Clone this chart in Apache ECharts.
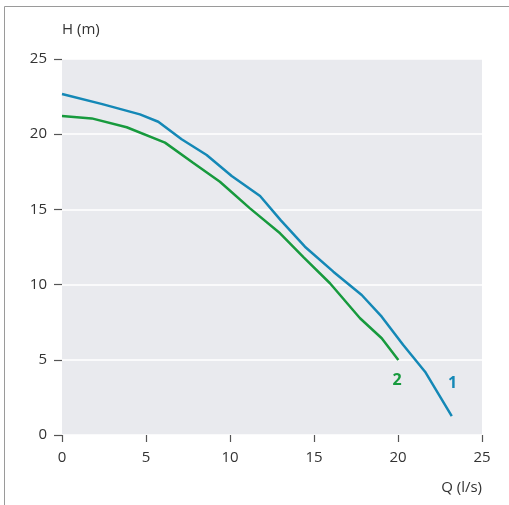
<!DOCTYPE html>
<html>
<head>
<meta charset="utf-8">
<script src="https://cdn.jsdelivr.net/npm/echarts@6/dist/echarts.min.js"></script>
<style>html,body{margin:0;padding:0;background:#fff}#c{width:509px;height:505px}</style>
</head>
<body>
<div id="c"></div>
<script>
const xTicks = [0, 5, 10, 15, 20, 25];
const yTicks = [0, 5, 10, 15, 20, 25];
const curve1 = [[0, 22.67], [2.4, 22.0], [4.64, 21.32], [5.73, 20.83], [7.12, 19.66], [8.61, 18.62], [10.1, 17.22], [11.79, 15.89], [13.0, 14.3], [14.46, 12.52], [16.15, 10.86], [17.84, 9.31], [19.03, 7.87], [20.3, 6.0], [21.61, 4.21], [23.2, 1.26]];
const curve2 = [[0, 21.21], [1.77, 21.05], [3.85, 20.46], [6.13, 19.44], [7.8, 18.1], [9.4, 16.84], [11.19, 15.07], [12.98, 13.41], [14.4, 11.8], [15.95, 10.09], [17.74, 7.76], [19.03, 6.43], [20.02, 4.99]];
const label1 = {name: '1', coord: [23.25, 3.4]};
const label2 = {name: '2', coord: [19.95, 3.65]};
const blue = '#1488b6', green = '#179a3d';
const font = 'Open Sans';
const chart = echarts.init(document.getElementById('c'));
chart.setOption({
  animation: false,
  textStyle: {fontFamily: font},
  graphic: [
    {type: 'line', shape: {x1: 4.5, y1: 6.5, x2: 509, y2: 6.5}, style: {stroke: '#9a9a9a', lineWidth: 1}},
    {type: 'line', shape: {x1: 4.5, y1: 6.5, x2: 4.5, y2: 505}, style: {stroke: '#9a9a9a', lineWidth: 1}}
  ],
  grid: {left: 62, right: 27, top: 59, bottom: 70, show: true, backgroundColor: '#e9eaee', borderWidth: 0},
  xAxis: {
    type: 'value', min: xTicks[0], max: xTicks[xTicks.length - 1], interval: 5,
    name: 'Q (l/s)', nameLocation: 'end', nameGap: 0,
    nameTextStyle: {align: 'right', verticalAlign: 'top', padding: [45, 0, 0, 0], fontSize: 15, color: '#333', fontFamily: font},
    axisLine: {show: false},
    axisTick: {show: true, length: 7, lineStyle: {color: '#555', width: 1.2}},
    axisLabel: {margin: 15, fontSize: 15, color: '#333', fontFamily: font},
    splitLine: {show: false}
  },
  yAxis: {
    type: 'value', min: yTicks[0], max: yTicks[yTicks.length - 1], interval: 5,
    name: 'H (m)', nameLocation: 'end', nameGap: 29,
    nameTextStyle: {align: 'left', verticalAlign: 'middle', fontSize: 15, color: '#333', fontFamily: font},
    axisLine: {show: false},
    axisTick: {show: true, length: 8, lineStyle: {color: '#555', width: 1.2}},
    axisLabel: {margin: 15, fontSize: 15, color: '#333', fontFamily: font},
    splitLine: {show: true, lineStyle: {color: '#ffffff', width: 1.5}}
  },
  series: [
    {type: 'line', data: curve1, showSymbol: false, lineStyle: {color: blue, width: 2.5}, itemStyle: {color: blue},
     markPoint: {symbolSize: 0, data: [label1], label: {show: true, formatter: '{b}', color: blue, fontWeight: 'bold', fontSize: 16, fontFamily: font}}},
    {type: 'line', data: curve2, showSymbol: false, lineStyle: {color: green, width: 2.5}, itemStyle: {color: green},
     markPoint: {symbolSize: 0, data: [label2], label: {show: true, formatter: '{b}', color: green, fontWeight: 'bold', fontSize: 16, fontFamily: font}}}
  ]
});
</script>
</body>
</html>
